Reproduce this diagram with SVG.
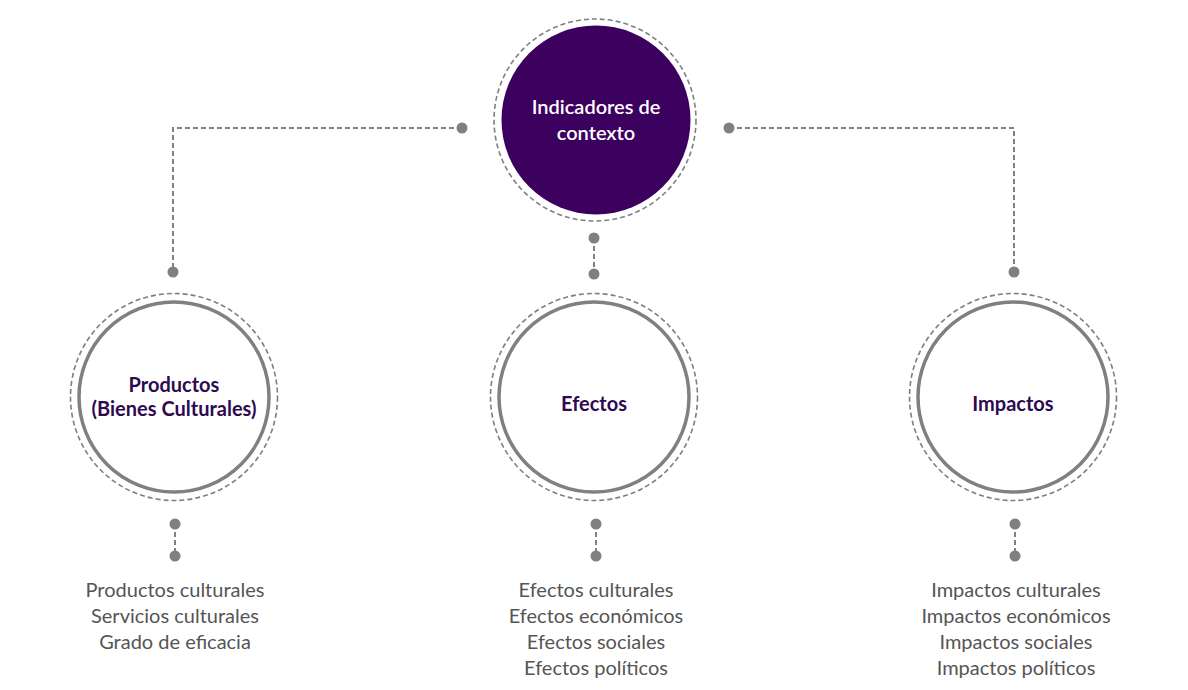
<svg xmlns="http://www.w3.org/2000/svg" width="1188" height="690" viewBox="0 0 1188 690">
<style>
.ring{fill:none;stroke:#7f7f7f;stroke-width:1.6;stroke-dasharray:5 3}
.solid{fill:#fff;stroke:#808080;stroke-width:3.5}
.conn{fill:none;stroke:#808080;stroke-width:2;stroke-dasharray:5 3}
.dot{fill:#808080}
.title{font-family:Lato,"Noto Sans",sans-serif;font-size:20px;font-weight:bold;fill:#2e0a50;text-anchor:middle}
.white{fill:#fff;font-weight:600}
.item{font-family:Lato,"Noto Sans",sans-serif;font-size:20px;fill:#555;text-anchor:middle}
</style>
<rect width="1188" height="690" fill="#fff"/>
<g id="connectors">
<path class="conn" d="M462 128 H173 V272"/>
<path class="conn" d="M729 128 H1014 V272"/>
<path class="conn" d="M594 238 V274"/>
<path class="conn" d="M175 524 V556"/>
<path class="conn" d="M596 524 V556"/>
<path class="conn" d="M1015 524 V556"/>
<circle class="dot" cx="462" cy="128" r="5.5"/>
<circle class="dot" cx="173" cy="272" r="5.5"/>
<circle class="dot" cx="729" cy="128" r="5.5"/>
<circle class="dot" cx="1014" cy="272" r="5.5"/>
<circle class="dot" cx="594" cy="238" r="5.5"/>
<circle class="dot" cx="594" cy="274" r="5.5"/>
<circle class="dot" cx="175" cy="524" r="5.5"/>
<circle class="dot" cx="175" cy="556" r="5.5"/>
<circle class="dot" cx="596" cy="524" r="5.5"/>
<circle class="dot" cx="596" cy="556" r="5.5"/>
<circle class="dot" cx="1015" cy="524" r="5.5"/>
<circle class="dot" cx="1015" cy="556" r="5.5"/>
</g>
<g id="contexto">
<circle class="ring" cx="595" cy="120" r="101"/>
<circle cx="596" cy="120" r="94.5" fill="#3c005f"/>
<text class="title white" x="596" y="114">Indicadores de</text>
<text class="title white" x="596" y="140">contexto</text>
</g>
<g id="productos">
<circle class="ring" cx="174" cy="397" r="103.5"/>
<circle class="solid" cx="174" cy="397" r="95"/>
<text class="title" x="174" y="392">Productos</text>
<text class="title" x="174" y="416">(Bienes Culturales)</text>
</g>
<g id="efectos">
<circle class="ring" cx="594" cy="397" r="103.5"/>
<circle class="solid" cx="594" cy="397" r="95"/>
<text class="title" x="594" y="411">Efectos</text>
</g>
<g id="impactos">
<circle class="ring" cx="1013" cy="397" r="103.5"/>
<circle class="solid" cx="1013" cy="397" r="95"/>
<text class="title" x="1013" y="411">Impactos</text>
</g>
<g id="lista-productos">
<text class="item" x="175" y="597">Productos culturales</text>
<text class="item" x="175" y="623">Servicios culturales</text>
<text class="item" x="175" y="649">Grado de eficacia</text>
</g>
<g id="lista-efectos">
<text class="item" x="596" y="597">Efectos culturales</text>
<text class="item" x="596" y="623">Efectos económicos</text>
<text class="item" x="596" y="649">Efectos sociales</text>
<text class="item" x="596" y="675">Efectos políticos</text>
</g>
<g id="lista-impactos">
<text class="item" x="1016" y="597">Impactos culturales</text>
<text class="item" x="1016" y="623">Impactos económicos</text>
<text class="item" x="1016" y="649">Impactos sociales</text>
<text class="item" x="1016" y="675">Impactos políticos</text>
</g>
</svg>
